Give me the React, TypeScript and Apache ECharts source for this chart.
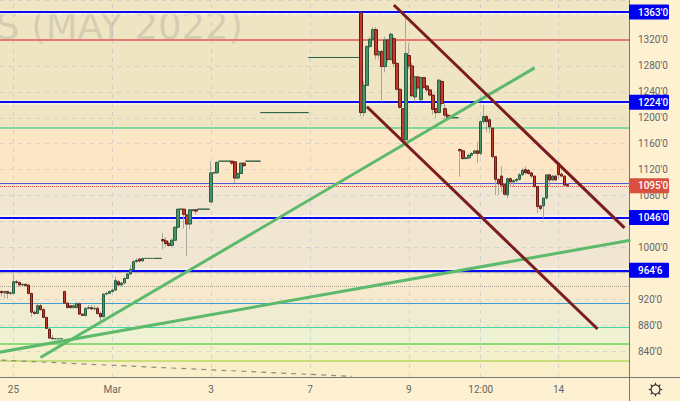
import React, { useEffect, useRef } from "react";
import * as echarts from "echarts";

type Row = number | [number, number, number, number];

// rows are [open, close, high, low]; a single number is a flat bar
const feb25Session: Row[] = [
  [932,930,934,924],[930,932,933,921],[932,929,933,920],[929,930,932,926],[929,947,960,928],[947,946,950,943],[946,942,947,940],
  [942,943,945,940],[943,941,945,940],[942,929,943,927],[929,900,930,893],[900,898,903,896],[898,910,913,897],[910,904,913,902],
  [904,892,907,890],[892,875,893,874],[874,860,875,859],[860,859,865,858],859,859,859,
];
const mar1Session: Row[] = [
  [932,914,933,913],[914,907,915,906],[910,907,911,906],[907,910,912,906],[907,913,916,906],[913,897,915,896],[897,895,898,894],
  [895,906,907,893],[906,907,911,904],[907,905,911,903],[905,906,911,903],[906,898,909,896],[898,893,901,885],[893,928,929,892],
  [928,929,932,926],[929,932,934,928],[932,934,937,930],[934,949,955,933],[947,942,950,940],[942,945,947,940],[945,952,954,943],
  [952,959,960,951],[959,966,973,957],[966,978,980,965],[978,980,983,976],[982,979,983,976],[979,983,984,978],
  983,983,983,983,983,983,
];
const mar3Session: Row[] = [
  [1012,1010,1022,997],[1010,1006,1016,1001],[1006,1003,1010,1001],[1003,1011,1014,1001],[1011,1031,1033,1010],[1031,1059,1060,1029],
  [1059,1059,1060,1058],[1059,1051,1060,1029],[1050,1036,1052,986],[1036,1058,1059,1028],[1057,1058,1059,1055],[1058,1056,1059,1051],
  1059,1059,1059,1059,
  [1070,1115,1133,1070],[1115,1115,1116,1114],[1115,1131,1133,1114],
  1133,1133,1133,1133,
  [1133,1130,1134,1127],[1132,1107,1133,1099],[1107,1114,1115,1105],[1114,1130,1131,1113],[1130,1126,1131,1124],
  1133,1133,1133,1133,1133,
];
const mar7Flat: Row[] = [1208,1208,1208,1208,1208,1208,1208,1208,1208,1208,1208,1208,1208,1208,1208,1208];
const mar8Flat: Row[] = [1293,1293,1293,1293,1293,1293,1293,1293,1293,1293,1293,1293,1293,1293,1293,1293,1293];
const mar9Session: Row[] = [
  [1362,1208,1363,1202],[1208,1250,1256,1202],[1250,1310,1312,1249],[1310,1321,1325,1308],[1321,1336,1340,1319],[1336,1297,1340,1290],
  [1297,1302,1305,1290],[1302,1279,1305,1225],[1279,1320,1325,1270],[1320,1290,1322,1285],[1290,1329,1331,1288],[1322,1284,1325,1278],
  [1284,1244,1285,1242],[1244,1216,1245,1214],[1214,1166,1215,1162],[1166,1299,1358,1160],[1296,1280,1315,1275],[1280,1234,1285,1232],
  [1232,1263,1265,1225],[1263,1246,1265,1243],[1228,1262,1263,1226],[1262,1247,1263,1245],[1249,1243,1251,1240],[1243,1235,1244,1233],
  [1235,1213,1236,1205],[1214,1208,1215,1200],[1208,1258,1260,1207],[1256,1222,1257,1218],[1214,1204,1222,1200],[1204,1200,1207,1198],
  1200,1200,1200,
];
const mar11Session: Row[] = [
  [1151,1149,1153,1109],[1149,1137,1150,1135],[1137,1138,1139,1136],[1138,1142,1145,1137],[1142,1145,1147,1141],[1145,1149,1150,1144],
  [1149,1145,1163,1130],[1145,1194,1196,1142],[1194,1202,1220,1190],[1202,1194,1205,1178],[1197,1186,1199,1176],[1184,1140,1185,1137],
  [1140,1105,1141,1081],[1105,1098,1107,1081],[1110,1096,1125,1085],[1097,1082,1100,1080],[1081,1106,1108,1076],[1106,1101,1108,1095],
  [1101,1103,1105,1094],[1103,1105,1107,1100],[1105,1112,1115,1103],[1112,1119,1122,1110],[1120,1115,1125,1113],[1119,1114,1121,1112],
  [1115,1110,1116,1107],[1110,1094,1111,1092],[1094,1063,1095,1053],[1064,1060,1065,1057],[1064,1076,1077,1045],[1076,1112,1113,1074],
  [1112,1104,1113,1095],[1104,1110,1112,1102],[1110,1104,1112,1102],[1130,1112,1132,1105],[1113,1110,1116,1108],[1110,1096,1111,1093],
  [1097,1095,1099,1093],
];
const allRows: Row[] = [...feb25Session, ...mar1Session, ...mar3Session, ...mar7Flat, ...mar8Flat, ...mar9Session, ...mar11Session];

const barSlots = 210;
const xTickIndexes = [4, 37, 70, 103, 136, 160, 186];
const xTickLabels = ["25", "Mar", "3", "7", "9", "12:00", "14"];
const yTickValues = [1320, 1280, 1240, 1200, 1160, 1120, 1080, 1000, 920, 880, 840];

const levelTags = [1363, 1224, 1046, 964.6];
const levelTagTexts = ["1363'0", "1224'0", "1046'0", "964'6"];
const lastPrice = 1095;
const lastPriceText = "1095'0";

// background zones: [from price, to price, colour]
const zones: [number, number, string][] = [
  [1184, 1382, "#EFE5C3"], [1098, 1184, "#FCE6C6"], [965, 1098, "#F0E6D2"], [914, 965, "#F6E9CD"],
  [877, 914, "#EFECD2"], [851, 877, "#EFF2D2"], [825, 851, "#F3F0CB"], [800, 825, "#FAEFC8"],
];
// thin levels: [price, colour, width, type]
const thinLevels: [number, string, number, string][] = [
  [1320, "#E27C70", 2, "solid"], [1185, "#82D8A2", 2, "solid"], [1098.5, "#5555DD", 1, "solid"], [940, "#A9A595", 1, "dotted"],
  [914, "#3F9FD0", 1, "solid"], [877, "#40D8A0", 1, "solid"], [851, "#6FD060", 1.5, "solid"], [825, "#BBD860", 1.5, "solid"],
];
const greenTrendA: [number, number][] = [[13, 830], [178, 1277]];
const greenTrendB: [number, number][] = [[-1, 838], [210, 1011]];
const channelTop: [number, number][] = [[131, 1374], [208, 1030]];
const channelBottom: [number, number][] = [[122, 1217], [199, 874]];
const dashedDecline: [number, number][] = [[0, 826], [117, 801]];

const rows4 = allRows.map((r) => (typeof r === "number" ? [r, r, r, r] : r));
const wickData = rows4.map(([o, c, h, l]) => [o, c, l, h]);
const bodyData = rows4.map(([o, c]) => [o, c, Math.min(o, c), Math.max(o, c)]);
const categories = Array.from({ length: barSlots }, (_, i) => {
  const k = xTickIndexes.indexOf(i);
  return k >= 0 ? xTickLabels[k] : "";
});

const trend = (data: [number, number][], color: string, width: number, z: number, type: any = "solid") => ({
  type: "line" as const,
  data,
  symbol: "none",
  silent: true,
  z,
  clip: true,
  lineStyle: { color, width, type },
});

const tagLine = (value: number, text: string, bg: string, lineStyle: any) => ({
  yAxis: value,
  lineStyle,
  label: {
    show: true,
    position: "end",
    distance: 0,
    formatter: text,
    color: "#fff",
    backgroundColor: bg,
    fontFamily: "Roboto",
    fontSize: 10,
    fontWeight: 500,
    padding: [3, 4, 2, 9],
    width: 27,
    borderRadius: 1,
  },
});

export default function App() {
  const ref = useRef<HTMLDivElement>(null);
  useEffect(() => {
    if (!ref.current) return;
    const chart = echarts.init(ref.current, undefined, { renderer: "svg" });
    const rays = [0, 1, 2, 3, 4, 5, 6, 7].map((k) => {
      const a = (k * Math.PI) / 4;
      return {
        type: "line",
        shape: { x1: 655.5 + Math.cos(a) * 4.5, y1: 389.5 + Math.sin(a) * 4.5, x2: 655.5 + Math.cos(a) * 6.8, y2: 389.5 + Math.sin(a) * 6.8 },
        style: { stroke: "#333", lineWidth: 1.2 },
      };
    });
    chart.setOption({
      animation: false,
      backgroundColor: "#FDF1D2",
      grid: { left: 0, top: 0, right: 51, bottom: 24 },
      xAxis: {
        type: "category",
        data: categories,
        z: 2,
        axisLine: { lineStyle: { color: "#777", width: 1 } },
        axisTick: { show: false },
        splitLine: { show: false },
        axisLabel: {
          interval: (i: number) => xTickIndexes.includes(i),
          color: "#666",
          fontFamily: "Roboto",
          fontSize: 10,
          margin: 7,
        },
      },
      yAxis: {
        type: "value",
        position: "right",
        min: 800,
        max: 1381.7,
        interval: 40,
        z: 2,
        axisLine: { show: true, lineStyle: { color: "#777", width: 1 } },
        axisTick: { show: false },
        splitLine: { show: true, lineStyle: { color: "rgba(165,180,205,0.4)", type: [4, 5], width: 1 } },
        axisLabel: {
          color: "#666",
          fontFamily: "Roboto",
          fontSize: 10,
          margin: 9,
          showMinLabel: false,
          showMaxLabel: false,
          formatter: (v: number) => (yTickValues.includes(v) ? `${v}'0` : ""),
        },
      },
      graphic: [
        {
          type: "text",
          z: 2,
          x: 243,
          y: 26,
          silent: true,
          style: { text: "S (MAY 2022)", fill: "rgba(120,120,120,0.22)", font: "37px 'DejaVu Sans'", align: "right", verticalAlign: "middle" },
        },
        { type: "line", z: 4, shape: { x1: 629.5, y1: 377, x2: 629.5, y2: 401 }, style: { stroke: "#777", lineWidth: 1 } },
        { type: "line", z: 4, shape: { x1: 629, y1: 377.5, x2: 680, y2: 377.5 }, style: { stroke: "#777", lineWidth: 1 } },
        { type: "circle", z: 4, shape: { cx: 655.5, cy: 389.5, r: 4.5 }, style: { stroke: "#333", fill: "none", lineWidth: 1.2 } },
        ...rays.map((r) => ({ ...r, z: 4 })),
      ],
      series: [
        {
          type: "line",
          data: [],
          z: 1,
          silent: true,
          markArea: {
            z: 1,
            silent: true,
            data: zones.map(([a, b, color]) => [{ yAxis: a, itemStyle: { color, opacity: 1 } }, { yAxis: b }]),
          },
        },
        {
          type: "line",
          data: [],
          z: 3,
          silent: true,
          markLine: {
            z: 3,
            silent: true,
            symbol: "none",
            precision: 1,
            label: { show: false },
            data: [
              ...xTickIndexes.map((i) => ({ xAxis: i, label: { show: false }, lineStyle: { color: "rgba(165,180,205,0.45)", type: [4, 5], width: 1 } })),
              ...thinLevels.map(([yAxis, color, width, type]) => ({ yAxis, label: { show: false }, lineStyle: { color, width, type } })),
              ...levelTags.map((yAxis) => ({ yAxis, label: { show: false }, lineStyle: { color: "rgba(255,255,255,0.55)", width: 4.5, type: "solid" } })),
              { yAxis: 963, label: { show: false }, lineStyle: { color: "rgba(120,120,130,0.5)", width: 2, type: "solid" } },
              ...levelTags.map((v, k) => tagLine(v, levelTagTexts[k], "#0000F0", { color: "#0A0AF0", width: 2, type: "solid" })),
              tagLine(lastPrice, lastPriceText, "#D9503F", { color: "#E0503F", width: 1, type: "dotted" }),
            ],
          },
        },
        {
          type: "candlestick",
          data: wickData,
          z: 4,
          silent: true,
          barWidth: 1,
          itemStyle: { color: "#A9A79C", color0: "#A9A79C", borderColor: "#A9A79C", borderColor0: "#A9A79C", borderWidth: 1 },
        },
        {
          type: "candlestick",
          data: bodyData,
          z: 5,
          silent: true,
          barWidth: 3,
          itemStyle: { color: "#46946A", color0: "#C23A2C", borderColor: "#2C6045", borderColor0: "#6A1C14", borderWidth: 1 },
        },
        trend(greenTrendB, "#5DB96B", 3, 6),
        trend(greenTrendA, "#5DB96B", 3, 6),
        trend(channelTop, "#7B1C1F", 3, 6),
        trend(channelBottom, "#7B1C1F", 3, 6),
        trend(dashedDecline, "#8F8D82", 1.2, 6, [5, 5]),
      ],
    });
    return () => chart.dispose();
  }, []);
  return <div ref={ref} style={{ position: "fixed", left: 0, top: 0, width: 680, height: 401 }} />;
}
